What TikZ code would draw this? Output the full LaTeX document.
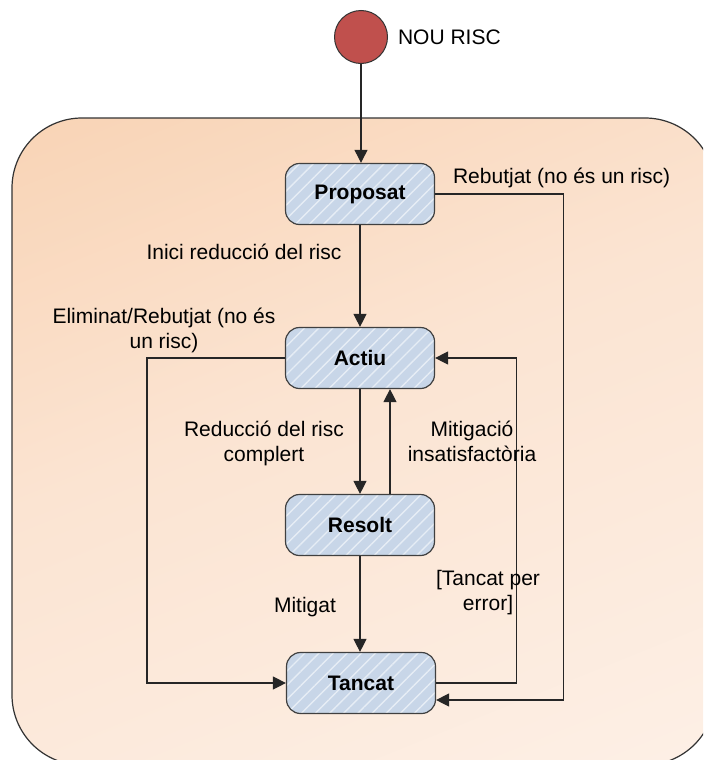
\documentclass[tikz,border=0pt]{standalone}
\usepackage{fontspec}
\setmainfont{Liberation Sans}
\usepackage{tikz}
\usetikzlibrary{arrows.meta,patterns.meta}
\definecolor{riskred}{RGB}{192,80,77}
\definecolor{peachdark}{RGB}{247,201,163}
\definecolor{peachmid}{RGB}{251,228,210}
\definecolor{peachlight}{RGB}{254,245,239}
\definecolor{stateblue}{RGB}{200,214,232}
\pgfdeclareverticalshading{peachfade}{100bp}{color(0bp)=(peachlight); color(55bp)=(peachmid); color(100bp)=(peachdark)}
\tikzset{
  start/.style={circle, fill=riskred, draw=black!80, line width=0.5pt, minimum size=26.5pt, inner sep=0pt},
  state/.style={preaction={fill=stateblue}, draw=black!75, line width=0.6pt, rounded corners=7pt,
    pattern={Lines[angle=45,distance=5pt,line width=0.7pt]}, pattern color=white!55!stateblue,
    minimum width=74.5pt, minimum height=30.5pt, font=\fontsize{10.5pt}{12.5pt}\selectfont\bfseries},
  flow/.style={draw=black!85, line width=0.6pt, -{Triangle[length=6.5pt,width=6.5pt]}},
  lbl/.style={align=center}
}
\begin{document}
\begin{tikzpicture}[x=0.5pt, y=-0.5pt, font=\fontsize{10.5pt}{12.5pt}\selectfont]
  \useasboundingbox (0,0) rectangle (703,760);

  % Draw the background region
  \begin{scope}
    \clip (0,0) rectangle (703,760);
    \shadedraw[shading=peachfade, shading angle=22,
      draw=black!80, line width=0.6pt, rounded corners=35pt] (12,118) rectangle (715,765);
  \end{scope}

  % Initial state
  \node[start] (nou) at (361,37) {};
  \node[anchor=west] (noulbl) at (391,37) {NOU RISC};

  % States
  \node[state] (proposat) at (360,194) {Proposat};
  \node[state] (actiu) at (360,358) {Actiu};
  \node[state] (resolt) at (360,525) {Resolt};
  \node[state] (tancat) at (361,683) {Tancat};

  % Transitions
  \draw[flow] (nou) -- (nou |- proposat.north);
  \draw[flow] (proposat) -- (actiu);
  \draw[flow] (actiu) -- (resolt);
  \draw[flow] ([xshift=15pt]resolt.north) -- ([xshift=15pt]actiu.south);
  \draw[flow] (resolt) -- (resolt |- tancat.north);
  \draw[flow] (proposat.east) -- ++(128,0) |- ([yshift=-8.5pt]tancat.east);
  \draw[flow] (actiu.west) -- ++(-138,0) |- (tancat.west);
  \draw[flow] (tancat.east) -- ++(80,0) |- (actiu.east);

  % Label the transitions
  \node[lbl] (lblinici) at (244,252) {Inici reducció del risc};
  \node[lbl, anchor=west] (lblrebut) at (446,178) {Rebutjat (no és un risc)};
  \node[lbl] (lblelim) at (164,330) {Eliminat/Rebutjat (no és\\un risc)};
  \node[lbl] (lblreduc) at (264,443) {Reducció del risc\\complert};
  \node[lbl] (lblmitins) at (472,441) {Mitigació\\insatisfactòria};
  \node[lbl] (lblerror) at (488,593) {[Tancat per\\error]};
  \node[lbl] (lblmit) at (305,607) {Mitigat};
\end{tikzpicture}
\end{document}
